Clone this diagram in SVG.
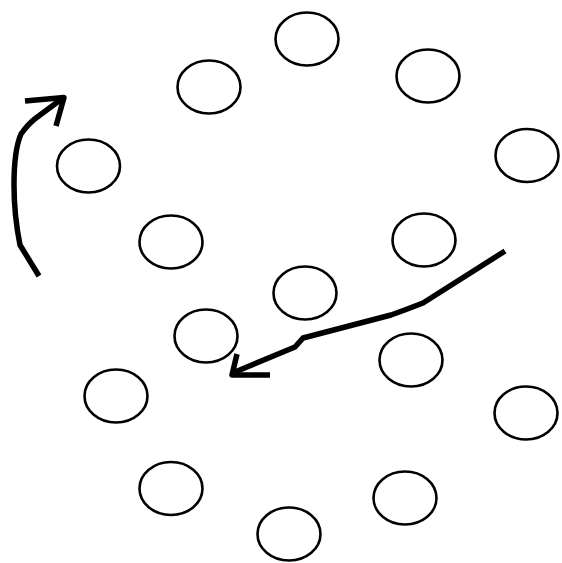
<svg xmlns="http://www.w3.org/2000/svg" width="562" height="563" viewBox="0 0 562 563">
<style>
.n{fill:#fff;stroke:#000;stroke-width:2.6}
.a{fill:none;stroke:#000;stroke-width:5.5;stroke-linecap:butt;stroke-linejoin:round}
</style>
<rect width="562" height="563" fill="#fff"/>
<g id="n1"><ellipse class="n" cx="307" cy="39" rx="31.5" ry="26.5"/></g>
<g id="n2"><ellipse class="n" cx="209" cy="87" rx="31.5" ry="26.5"/></g>
<g id="n3"><ellipse class="n" cx="428" cy="76" rx="31.5" ry="26.5"/></g>
<g id="n4"><ellipse class="n" cx="88.5" cy="166" rx="31.5" ry="26.5"/></g>
<g id="n5"><ellipse class="n" cx="527" cy="155.5" rx="31.5" ry="26.5"/></g>
<g id="n6"><ellipse class="n" cx="171" cy="242" rx="31.5" ry="26.5"/></g>
<g id="n7"><ellipse class="n" cx="424" cy="240" rx="31.5" ry="26.5"/></g>
<g id="n8"><ellipse class="n" cx="305" cy="293" rx="31.5" ry="26.5"/></g>
<g id="n9"><ellipse class="n" cx="206" cy="336" rx="31.5" ry="26.5"/></g>
<g id="n10"><ellipse class="n" cx="411" cy="360" rx="31.5" ry="26.5"/></g>
<g id="n11"><ellipse class="n" cx="116" cy="396" rx="31.5" ry="26.5"/></g>
<g id="n12"><ellipse class="n" cx="526" cy="413" rx="31.5" ry="26.5"/></g>
<g id="n13"><ellipse class="n" cx="171" cy="488.5" rx="31.5" ry="26.5"/></g>
<g id="n14"><ellipse class="n" cx="405" cy="498" rx="31.5" ry="26.5"/></g>
<g id="n15"><ellipse class="n" cx="289" cy="534" rx="31.5" ry="26.5"/></g>
<g id="connectors">
<path class="a" d="M39 276 L20 245 Q14 215 14 185 Q14 150 21 134 Q28 124 36 118 L63 98"/>
<path class="a" d="M25 101 L64 97.5 L56 126"/>
<path class="a" d="M505 251 L423 303 Q405 310 391 315 L303 338 L295 347 L235 372"/>
<path class="a" d="M237 354 L232 375 L270 375"/>
</g>
</svg>
